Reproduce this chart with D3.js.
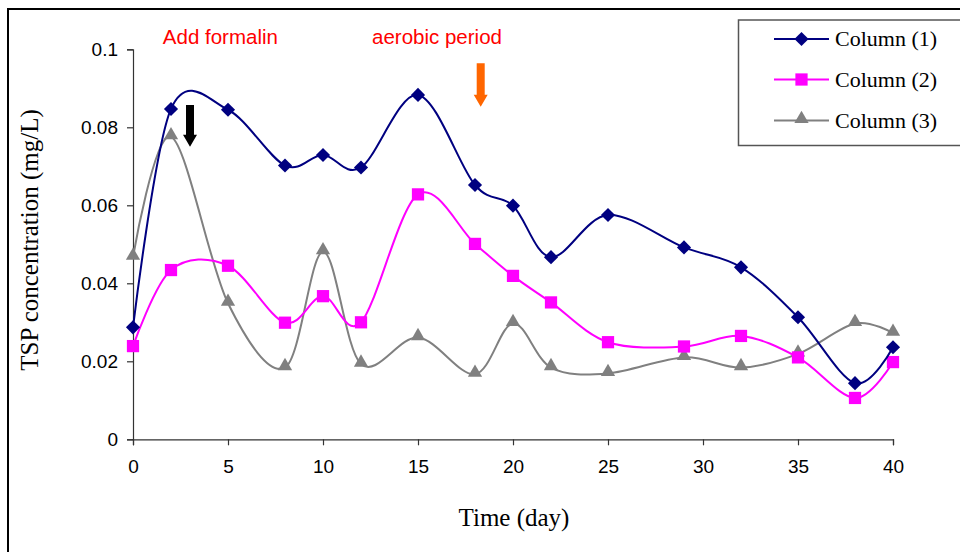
<!DOCTYPE html>
<html>
<head>
<meta charset="utf-8">
<script src="https://cdn.jsdelivr.net/npm/d3@7"></script>
<style>
  body { margin: 0; background: #fff; }
  svg { display: block; }
</style>
</head>
<body>
<svg id="chart" width="960" height="552"></svg>
<script>
// sampling days
var days = [0, 2, 5, 8, 10, 12, 15, 18, 20, 22, 25, 29, 32, 35, 38, 40];

// TSP concentration (mg/L) per column
var column1 = [0.0287, 0.0847, 0.0845, 0.0702, 0.0729, 0.0697, 0.0883, 0.0652, 0.0599, 0.0467, 0.0575, 0.0492, 0.0441, 0.0313, 0.0144, 0.0236];
var column2 = [0.0239, 0.0434, 0.0445, 0.0299, 0.0367, 0.0300, 0.0628, 0.0501, 0.0419, 0.0351, 0.0249, 0.0238, 0.0265, 0.0210, 0.0106, 0.0198];
var column3 = [0.0467, 0.0776, 0.0349, 0.0184, 0.0481, 0.0193, 0.0261, 0.0167, 0.0297, 0.0184, 0.0169, 0.0210, 0.0184, 0.0219, 0.0297, 0.0272];

var seriesNames = ["Column (1)", "Column (2)", "Column (3)"];
var xTicks = [0, 5, 10, 15, 20, 25, 30, 35, 40];
var yTicks = [0, 0.02, 0.04, 0.06, 0.08, 0.1];
var yTickLabels = ["0", "0.02", "0.04", "0.06", "0.08", "0.1"];

// annotations: label text with centre day, arrows with day and value range
var noteLabels = ["Add formalin", "aerobic period"];
var noteDays = [4.6, 16.0];
var arrowDays = [3.0, 18.3];
var arrowTop = [0.0857, 0.0964];
var arrowTip = [0.0750, 0.0853];

var svg = d3.select("#chart");

// outer frame, runs off the right and bottom edge like the original
svg.append("rect")
    .attr("x", 8).attr("y", 9)
    .attr("width", 1000).attr("height", 600)
    .attr("fill", "none")
    .attr("stroke", "#000")
    .attr("stroke-width", 2);

var x = d3.scaleLinear().domain([0, 40]).range([133, 893]);
var y = d3.scaleLinear().domain([0, 0.1]).range([439.3, 49.3]);

// axes
var yAxis = svg.append("g")
    .attr("transform", "translate(" + x(0) + ",0)")
    .call(d3.axisLeft(y).tickValues(yTicks).tickSize(6).tickPadding(9)
        .tickFormat(function(d, i) { return yTickLabels[i]; }));

var xAxis = svg.append("g")
    .attr("transform", "translate(0," + y(0) + ")")
    .call(d3.axisBottom(x).tickValues(xTicks).tickSize(6).tickPadding(14));

[xAxis, yAxis].forEach(function(g) {
    g.select(".domain").attr("stroke", "#333").attr("stroke-width", 1.2);
    g.selectAll(".tick line").attr("stroke", "#333").attr("stroke-width", 1.2);
    g.selectAll(".tick text")
        .attr("fill", "#000")
        .style("font-family", "'Liberation Sans', Arial, sans-serif")
        .style("font-size", "19px");
});

// axis titles
svg.append("text")
    .attr("transform", "translate(38,240) rotate(-90)")
    .attr("text-anchor", "middle")
    .style("font-family", "'Liberation Serif', 'Times New Roman', serif")
    .style("font-size", "25px")
    .text("TSP concentration (mg/L)");

svg.append("text")
    .attr("x", 514).attr("y", 526)
    .attr("text-anchor", "middle")
    .style("font-family", "'Liberation Serif', 'Times New Roman', serif")
    .style("font-size", "25px")
    .text("Time (day)");

// series; the diamond is a square turned 45 degrees
var colors = ["#000080", "#ff00ff", "#808080"];
var symbols = [d3.symbolSquare, d3.symbolSquare, d3.symbolTriangle];
var symbolSizes = [100, 150, 88];
var rotations = [45, 0, 0];
var offsets = [0, 0, -1.5];
var allSeries = [column1, column2, column3];

var line = d3.line()
    .x(function(d) { return x(d[0]); })
    .y(function(d) { return y(d[1]); })
    .curve(d3.curveCardinal.tension(0));

// draw back to front so column (1) ends up on top
[2, 1, 0].forEach(function(s) {
    var pts = days.map(function(d, i) { return [d, allSeries[s][i]]; });
    svg.append("path")
        .datum(pts)
        .attr("d", line)
        .attr("fill", "none")
        .attr("stroke", colors[s])
        .attr("stroke-width", 2);
    svg.append("g").selectAll("path")
        .data(pts)
        .join("path")
        .attr("transform", function(d) {
            return "translate(" + x(d[0]) + "," + (y(d[1]) + offsets[s]) + ") rotate(" + rotations[s] + ")";
        })
        .attr("d", d3.symbol().type(symbols[s]).size(symbolSizes[s]))
        .attr("fill", colors[s]);
});

// annotations
svg.selectAll(".note")
    .data(noteLabels)
    .join("text")
    .attr("class", "note")
    .attr("x", function(d, i) { return x(noteDays[i]); })
    .attr("y", 44)
    .attr("text-anchor", "middle")
    .attr("fill", "#ff0000")
    .style("font-family", "'Liberation Sans', Arial, sans-serif")
    .style("font-size", "20.5px")
    .text(function(d) { return d; });

var arrowColors = ["#000000", "#ff6600"];
arrowDays.forEach(function(d, i) {
    var cx = x(d), top = y(arrowTop[i]), tip = y(arrowTip[i]);
    var head = 12, hw = 7, sw = 4;
    svg.append("path")
        .attr("d", "M" + (cx - sw) + "," + top +
            "L" + (cx + sw) + "," + top +
            "L" + (cx + sw) + "," + (tip - head) +
            "L" + (cx + hw) + "," + (tip - head) +
            "L" + cx + "," + tip +
            "L" + (cx - hw) + "," + (tip - head) +
            "L" + (cx - sw) + "," + (tip - head) + "Z")
        .attr("fill", arrowColors[i]);
});

// legend
var legend = svg.append("g");
legend.append("rect")
    .attr("x", 738.5).attr("y", 20)
    .attr("width", 400).attr("height", 125.5)
    .attr("fill", "#fff")
    .attr("stroke", "#555")
    .attr("stroke-width", 1.5);

var rowY = [39, 79.5, 120.5];
seriesNames.forEach(function(name, i) {
    var g = legend.append("g").attr("transform", "translate(0," + rowY[i] + ")");
    g.append("line")
        .attr("x1", 774).attr("x2", 829)
        .attr("stroke", colors[i]).attr("stroke-width", 2);
    g.append("path")
        .attr("transform", "translate(801.5," + offsets[i] + ") rotate(" + rotations[i] + ")")
        .attr("d", d3.symbol().type(symbols[i]).size(symbolSizes[i]))
        .attr("fill", colors[i]);
    g.append("text")
        .attr("x", 835).attr("dy", "0.33em")
        .style("font-family", "'Liberation Serif', 'Times New Roman', serif")
        .style("font-size", "22px")
        .text(name);
});
</script>
</body>
</html>
